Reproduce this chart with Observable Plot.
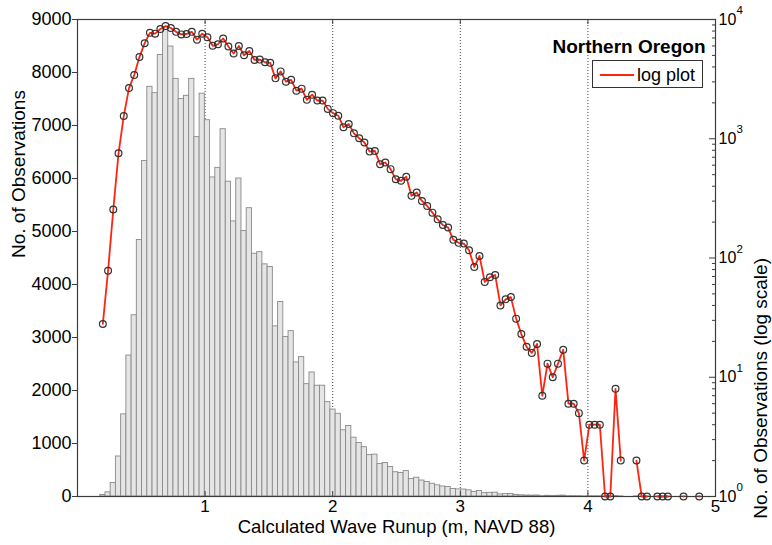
<!DOCTYPE html>
<html>
<head>
<meta charset="utf-8">
<script src="https://cdn.jsdelivr.net/npm/d3@7"></script>
<script src="https://cdn.jsdelivr.net/npm/@observablehq/plot@0.6"></script>
<style>
  html, body { margin: 0; padding: 0; background: #fff; }
  #chart { position: relative; width: 772px; height: 545px; font-family: "Liberation Sans", Arial, Helvetica, sans-serif; }
  #chart svg { position: absolute; left: 0; top: 0; }
  #legend { position: absolute; left: 592px; top: 60px; width: 109px; height: 26px; border: 1px solid #333; background: #fff; }
  #legend .swatch { position: absolute; left: 7px; top: 13px; width: 34px; height: 0; border-top: 2px solid #ff2410; }
  #legend .lbl { position: absolute; left: 44px; top: 5px; font-size: 18px; line-height: 18px; color: #000; white-space: nowrap; }
</style>
</head>
<body>
<div id="chart"></div>
<script>
// ---- histogram bins (Calculated Wave Runup, m) ----
const binStart = 0.178;   // left edge of first bin
const binWidth = 0.041;   // bin width
// counts per bin
const counts = [
  28, 78, 255, 755, 1550, 2660, 3420, 4840, 6330, 7730,
  7610, 8330, 8800, 8490, 7880, 7500, 7560, 7880, 6780, 7600,
  7100, 6020, 6200, 6930, 5940, 5190, 6000, 5010, 5440, 4580,
  4610, 4380, 4330, 3210, 3670, 3010, 3120, 2530, 2630, 2120,
  2340, 2090, 2090, 1780, 1640, 1560, 1250, 1330, 1110, 1010,
  930, 780, 790, 612, 632, 556, 458, 444, 480, 332,
  354, 301, 273, 240, 211, 189, 180, 142, 134, 132,
  116, 84, 104, 63, 69, 72, 40, 45, 47, 31,
  23, 18, 16, 19, 7, 13, 10, 13, 17, 6,
  6, 5, 2, 4, 4, 4, 1, 1, 8, 2,
  0, 0, 2, 1, 1, 0, 1, 1, 1, 0,
  0, 1, 0, 0, 1
];
const xTicks = [1, 2, 3, 4, 5];
const gridX = [1, 2, 3, 4];
const leftTicks = [0, 1000, 2000, 3000, 4000, 5000, 6000, 7000, 8000, 9000];
const logMajor = [1, 10, 100, 1000, 10000];
const logExponents = ["0", "1", "2", "3", "4"];
const minorMultipliers = [2, 3, 4, 5, 6, 7, 8, 9];
const titleText = "Northern Oregon";
const xLabel = "Calculated Wave Runup (m, NAVD 88)";
const yLabelLeft = "No. of Observations";
const yLabelRight = "No. of Observations (log scale)";
const legendText = "log plot";

// ---- derived tables ----
const bins = counts.map((c, i) => ({
  x1: binStart + i * binWidth,
  x2: binStart + (i + 1) * binWidth,
  xc: binStart + (i + 0.5) * binWidth,
  count: c
}));
const logMinor = logMajor.slice(0, -1).flatMap(d => minorMultipliers.map(m => d * m));

const W = 772, H = 545;
const M = { top: 19, right: 57, bottom: 49, left: 77 };
const frameW = W - M.left - M.right;
const frameH = H - M.top - M.bottom;
const FONT = "'Liberation Sans', Arial, Helvetica, sans-serif";
const frameColor = "#3c3c3c";

const common = {
  width: W, height: H,
  marginTop: M.top, marginRight: M.right, marginBottom: M.bottom, marginLeft: M.left,
  style: { background: "transparent", fontFamily: FONT, fontSize: "18px", color: "#000", overflow: "visible" }
};

// ---- layer 1: linear histogram with left axis ----
const plot1 = Plot.plot({
  ...common,
  x: { domain: [0, 5] },
  y: { domain: [0, 9000] },
  marks: [
    Plot.ruleX(gridX, { stroke: "#444", strokeWidth: 1, strokeDasharray: "1,2" }),
    Plot.rectY(bins, { x1: "x1", x2: "x2", y: "count", inset: 0, fill: "#e5e5e5", stroke: "#8a8a8a", strokeWidth: 0.9 }),
    Plot.frame({ stroke: frameColor, strokeWidth: 1.2 }),
    Plot.axisY(leftTicks, { tickSize: 5, tickPadding: 1, tickFormat: d => String(d), label: null, fontSize: 18, stroke: frameColor }),
    Plot.axisX(xTicks, { tickSize: 0, tickPadding: 3, tickFormat: d => String(d), label: null, fontSize: 17 }),
    Plot.ruleX(xTicks, { insetTop: frameH - 5, stroke: frameColor }),
    Plot.ruleX(xTicks, { insetBottom: frameH - 5, stroke: frameColor }),
    Plot.text([yLabelLeft], { text: d => d, frameAnchor: "left", rotate: -90, dx: -59, fontSize: 19 }),
    Plot.text([xLabel], { text: d => d, frameAnchor: "bottom", dy: 36, fontSize: 18.5 })
  ]
});

// ---- layer 2: log line with right axis ----
const plot2 = Plot.plot({
  ...common,
  x: { domain: [0, 5], axis: null },
  y: { type: "log", domain: [1, 10000], axis: null },
  marks: [
    Plot.line(bins, { x: "xc", y: d => (d.count > 0 ? d.count : NaN), stroke: "#ff2410", strokeWidth: 1.8 }),
    Plot.dot(bins.filter(d => d.count > 0), { x: "xc", y: "count", r: 3.4, stroke: "#333", strokeWidth: 1.2, fill: "none" }),
    Plot.ruleY(logMajor, { y: d => d, insetLeft: frameW - 6, stroke: frameColor }),
    Plot.ruleY(logMinor, { y: d => d, insetLeft: frameW - 3, stroke: frameColor }),
    Plot.text(logMajor, { y: d => d, text: () => "10", frameAnchor: "right", dx: 3, textAnchor: "start", fontSize: 16 }),
    Plot.text(logMajor, { y: d => d, text: (d, i) => logExponents[i], frameAnchor: "right", dx: 21, dy: -9, textAnchor: "start", fontSize: 11.5 }),
    Plot.text([yLabelRight], { text: d => d, frameAnchor: "right", rotate: -90, dx: 45, fontSize: 19 }),
    Plot.text([titleText], { text: d => d, frameAnchor: "top-right", dx: -10, dy: 20, textAnchor: "end", fontWeight: "bold", fontSize: 19 })
  ]
});

const chart = document.getElementById("chart");
chart.appendChild(plot1);
chart.appendChild(plot2);

const legend = document.createElement("div");
legend.id = "legend";
const sw = document.createElement("span");
sw.className = "swatch";
const lbl = document.createElement("span");
lbl.className = "lbl";
lbl.textContent = legendText;
legend.appendChild(sw);
legend.appendChild(lbl);
chart.appendChild(legend);
</script>
</body>
</html>
